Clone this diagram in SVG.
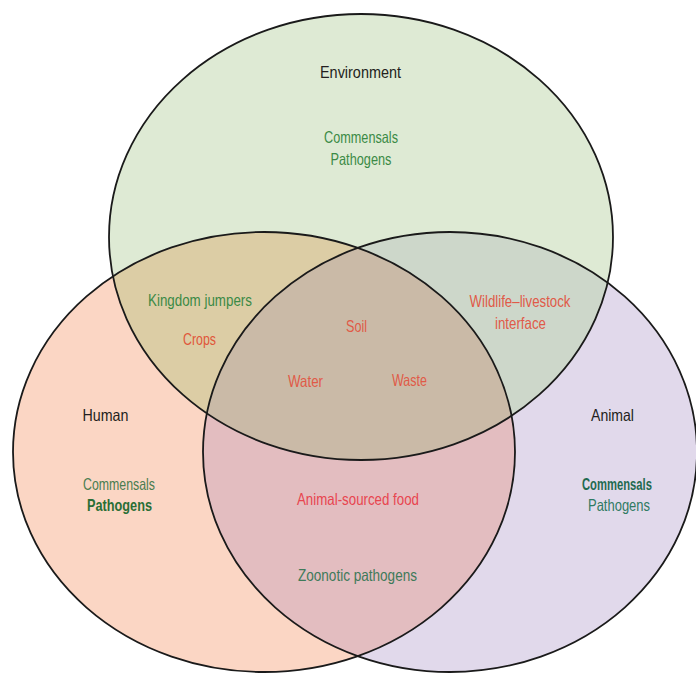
<svg xmlns="http://www.w3.org/2000/svg" width="696" height="674" viewBox="0 0 696 674">
<style>
text{font-family:"Liberation Sans",Arial,sans-serif;font-size:16.5px;text-anchor:middle;}
.lbl{fill:#231f20;}
.g{fill:#3b8a46;}
.gh{fill:#4a7d50;}
.gb{fill:#2a6e35;font-weight:bold;}
.ga{fill:#1f6a50;font-weight:bold;}
.gp{fill:#2f7a62;}
.gz{fill:#3f7a5a;}
.r{fill:#e05a48;}
.rp{fill:#e8454f;}
.outline{fill:none;stroke:#1a1a1a;stroke-width:1.8;}
</style>
<defs>
<clipPath id="cE"><ellipse cx="361" cy="237" rx="252" ry="223"/></clipPath>
<clipPath id="cH"><ellipse cx="264" cy="452" rx="251" ry="220"/></clipPath>
<clipPath id="cA"><ellipse cx="450" cy="452" rx="247" ry="220"/></clipPath>
</defs>
<rect width="696" height="674" fill="#ffffff"/>
<g id="fills">
<ellipse cx="264" cy="452" rx="251" ry="220" fill="#fbd6c4"/>
<ellipse cx="450" cy="452" rx="247" ry="220" fill="#e1d9eb"/>
<ellipse cx="361" cy="237" rx="252" ry="223" fill="#deead4"/>
<ellipse cx="264" cy="452" rx="251" ry="220" fill="#dccda5" clip-path="url(#cE)"/>
<ellipse cx="450" cy="452" rx="247" ry="220" fill="#cdd7ca" clip-path="url(#cE)"/>
<ellipse cx="450" cy="452" rx="247" ry="220" fill="#e3bdc0" clip-path="url(#cH)"/>
<g clip-path="url(#cE)"><ellipse cx="450" cy="452" rx="247" ry="220" fill="#cabaa7" clip-path="url(#cH)"/></g>
</g>
<g id="environment">
<ellipse class="outline" cx="361" cy="237" rx="252" ry="223"/>
<text class="lbl" x="360.5" y="78" textLength="81" lengthAdjust="spacingAndGlyphs">Environment</text>
<text class="g" x="361" y="143" textLength="74" lengthAdjust="spacingAndGlyphs">Commensals</text>
<text class="g" x="361" y="165" textLength="61" lengthAdjust="spacingAndGlyphs">Pathogens</text>
</g>
<g id="human">
<ellipse class="outline" cx="264" cy="452" rx="251" ry="220"/>
<text class="lbl" x="105.5" y="421" textLength="46" lengthAdjust="spacingAndGlyphs">Human</text>
<text class="gh" x="119" y="490" textLength="72" lengthAdjust="spacingAndGlyphs">Commensals</text>
<text class="gb" x="119.5" y="511" textLength="65" lengthAdjust="spacingAndGlyphs">Pathogens</text>
</g>
<g id="animal">
<ellipse class="outline" cx="450" cy="452" rx="247" ry="220"/>
<text class="lbl" x="612.5" y="421" textLength="43" lengthAdjust="spacingAndGlyphs">Animal</text>
<text class="ga" x="617" y="490" textLength="70" lengthAdjust="spacingAndGlyphs">Commensals</text>
<text class="gp" x="619" y="511" textLength="62" lengthAdjust="spacingAndGlyphs">Pathogens</text>
</g>
<g id="env-human">
<text class="g" x="200" y="306" textLength="104" lengthAdjust="spacingAndGlyphs">Kingdom jumpers</text>
<text class="r" x="199.5" y="345" textLength="33" lengthAdjust="spacingAndGlyphs" style="fill:#e0573a">Crops</text>
</g>
<g id="env-animal">
<text class="r" x="520" y="307" textLength="101" lengthAdjust="spacingAndGlyphs">Wildlife–livestock</text>
<text class="r" x="520.5" y="329" textLength="51" lengthAdjust="spacingAndGlyphs">interface</text>
</g>
<g id="all-three">
<text class="r" x="356.5" y="332" textLength="21" lengthAdjust="spacingAndGlyphs">Soil</text>
<text class="r" x="305.5" y="387" textLength="35" lengthAdjust="spacingAndGlyphs">Water</text>
<text class="r" x="409.5" y="386" textLength="35" lengthAdjust="spacingAndGlyphs">Waste</text>
</g>
<g id="human-animal">
<text class="rp" x="358" y="505" textLength="122" lengthAdjust="spacingAndGlyphs">Animal-sourced food</text>
<text class="gz" x="357.5" y="581" textLength="119" lengthAdjust="spacingAndGlyphs">Zoonotic pathogens</text>
</g>
<g id="connectors"></g>
</svg>
